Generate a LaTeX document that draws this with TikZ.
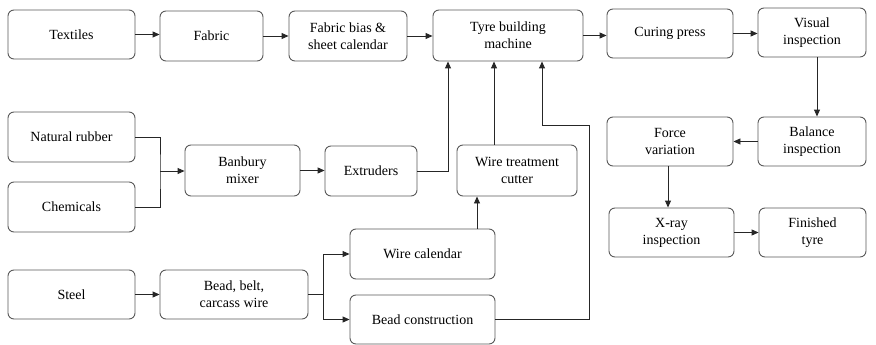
\documentclass[tikz,border=0pt]{standalone}
\usepackage{fontspec}
\setmainfont{Liberation Serif}
\usetikzlibrary{arrows.meta}
\begin{document}
\begin{tikzpicture}[x=1pt,y=-1pt,
  box/.style={draw=black!65, line width=0.9pt, rounded corners=6pt, inner sep=0pt,
    align=center, font=\rmfamily\fontsize{14}{17}\selectfont, text=black},
  arr/.style={draw=black!85, line width=0.9pt, -{Triangle[length=7pt,width=6pt]}},
  ln/.style={draw=black!85, line width=0.9pt}]
\useasboundingbox (0,0) rectangle (876,345);
\node[box, minimum width=127pt, minimum height=49pt] (tex) at (71.5,34.5) {Textiles};
\node[box, minimum width=103pt, minimum height=50pt] (fab) at (211.5,36) {Fabric};
\node[box, minimum width=118pt, minimum height=50pt] (bias) at (348,36) {Fabric bias \&\\sheet calendar};
\node[box, minimum width=150pt, minimum height=51pt] (tbm) at (508,35.5) {Tyre building\\machine};
\node[box, minimum width=126pt, minimum height=49pt] (cur) at (670,33.5) {Curing press};
\node[box, minimum width=108pt, minimum height=49pt] (vis) at (812,32.5) {Visual\\inspection};
\node[box, minimum width=127pt, minimum height=50pt] (nat) at (71.5,137) {Natural rubber};
\node[box, minimum width=127pt, minimum height=50pt] (chem) at (71.5,207) {Chemicals};
\node[box, minimum width=115pt, minimum height=51pt] (ban) at (242.5,170.5) {Banbury\\mixer};
\node[box, minimum width=92pt, minimum height=50pt] (ext) at (371,171) {Extruders};
\node[box, minimum width=120pt, minimum height=51pt] (wtc) at (517,170.5) {Wire treatment\\cutter};
\node[box, minimum width=126pt, minimum height=49pt] (force) at (670,141.5) {Force\\variation};
\node[box, minimum width=108pt, minimum height=49pt] (bal) at (812,141.5) {Balance\\inspection};
\node[box, minimum width=125pt, minimum height=49pt] (xray) at (671.5,232.5) {X-ray\\inspection};
\node[box, minimum width=107pt, minimum height=49pt] (fin) at (812.5,232.5) {Finished\\tyre};
\node[box, minimum width=127pt, minimum height=49pt] (steel) at (71.5,294.5) {Steel};
\node[box, minimum width=148pt, minimum height=49pt] (bbc) at (234,294.5) {Bead, belt,\\carcass wire};
\node[box, minimum width=145pt, minimum height=50pt] (wcal) at (422.5,254) {Wire calendar};
\node[box, minimum width=145pt, minimum height=49pt] (bcon) at (422.5,319.5) {Bead construction};
\coordinate (j1) at (160,171);
\coordinate (j2) at (323,294.5);
\coordinate (j3) at (589,125);
% top row
\draw[arr] (tex.east) -- (tex.east -| fab.west);
\draw[arr] (fab.east) -- (fab.east -| bias.west);
\draw[arr] (bias.east) -- (bias.east -| tbm.west);
\draw[arr] (tbm.east) -- (tbm.east -| cur.west);
\draw[arr] (cur.east) -- (cur.east -| vis.west);
% rubber
\draw[ln] (nat.east) -| (j1) |- (chem.east);
\draw[arr] (j1) -- (j1 -| ban.west);
\draw[arr] (ban.east) -- (ban.east -| ext.west);
\draw[arr] (ext.east) -| ([xshift=-60pt]tbm.south);
% wire
\draw[arr] (steel.east) -- (steel.east -| bbc.west);
\draw[ln] (bbc.east) -- (j2);
\draw[arr] (j2) |- (wcal.west);
\draw[arr] (j2) |- (bcon.west);
\draw[arr] (wcal.north -| 477,0) -- (wtc.south -| 477,0);
\draw[arr] (wtc.north -| 494,0) -- (tbm.south -| 494,0);
\draw[arr] (bcon.east) -| (j3) -| ([xshift=34pt]tbm.south);
% inspection
\draw[arr] (vis.south -| 817,0) -- (bal.north -| 817,0);
\draw[arr] (bal.west) -- (force.east);
\draw[arr] (force.south -| 668,0) -- (xray.north -| 668,0);
\draw[arr] (xray.east) -- (fin.west);
\end{tikzpicture}
\end{document}
